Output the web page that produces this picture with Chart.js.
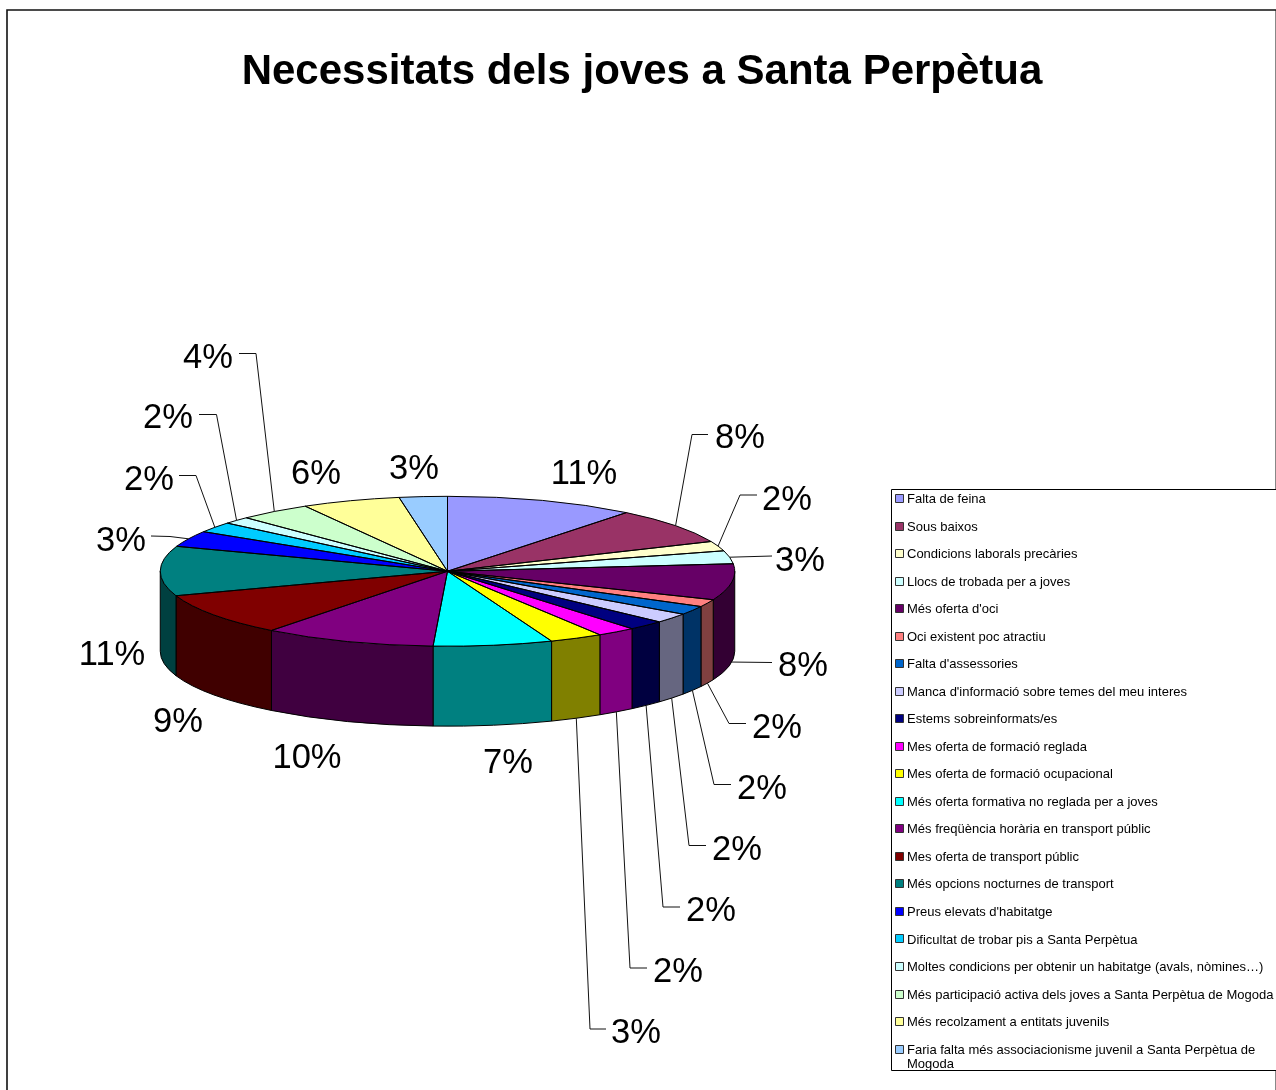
<!DOCTYPE html>
<html><head><meta charset="utf-8">
<style>html,body{margin:0;padding:0;background:#fff}canvas{display:block}</style>
<script src="https://cdn.jsdelivr.net/npm/chart.js@4/dist/chart.umd.js"></script>
</head><body>
<canvas id="c" width="1276" height="1090"></canvas>
<script>
const titleText = "Necessitats dels joves a Santa Perpètua";
const categories = ["Falta de feina","Sous baixos","Condicions laborals precàries","Llocs de trobada per a joves","Més oferta d'oci","Oci existent poc atractiu","Falta d'assessories","Manca d'informació sobre temes del meu interes","Estems sobreinformats/es","Mes oferta de formació reglada","Mes oferta de formació ocupacional","Més oferta formativa no reglada per a joves","Més freqüència horària en transport públic","Mes oferta de transport públic","Més opcions nocturnes de transport","Preus elevats d'habitatge","Dificultat de trobar pis a Santa Perpètua","Moltes condicions per obtenir un habitatge (avals, nòmines…)","Més participació activa dels joves a Santa Perpètua de Mogoda","Més recolzament a entitats juvenils","Faria falta més associacionisme juvenil a Santa Perpètua de Mogoda"];
const shares = [10.7,7.8,2.1,2.8,7.8,1.6,1.9,2.1,2.1,2.2,3.0,6.7,9.7,9.2,10.7,3.45,2.25,1.55,4.1,5.55,2.7];
const colors = ["#9999FF","#993366","#FFFFCC","#CCFFFF","#660066","#FF8080","#0066CC","#CCCCFF","#000080","#FF00FF","#FFFF00","#00FFFF","#800080","#800000","#008080","#0000FF","#00CCFF","#CCFFFF","#CCFFCC","#FFFF99","#99CCFF"];
// label centre and optional leader route (elbow points, ending near the label)
const labelPlacement = [
 {x:584,y:472},
 {x:740,y:436,route:[[692,434.5],[708,434.5]]},
 {x:787,y:498,route:[[740,495],[757,495]]},
 {x:800,y:559,route:[[772,556]]},
 {x:803,y:664,route:[[772,662.5]]},
 {x:777,y:726,route:[[729,723.5],[746,723.5]]},
 {x:762,y:787,route:[[714,784.5],[731,784.5]]},
 {x:737,y:848,route:[[689,845.5],[706,845.5]]},
 {x:711,y:909,route:[[663,907],[680,907]]},
 {x:678,y:970,route:[[630,968],[647,968]]},
 {x:636,y:1031,route:[[590,1029],[606,1029]]},
 {x:508,y:761},
 {x:307,y:756},
 {x:178,y:720},
 {x:112,y:653},
 {x:121,y:539,route:[[170,536.5],[151,536]]},
 {x:149,y:478,route:[[196,475.5],[179,475.5]]},
 {x:168,y:416,route:[[216.5,414.5],[199,414.5]]},
 {x:208,y:356,route:[[256,353.5],[239,353.5]]},
 {x:316,y:472},
 {x:414,y:467}
];
const FONT = '"Liberation Sans", Arial, sans-serif';
const TILT = 75/287.5, DEPTH = 80;
const half = c => '#'+[1,3,5].map(i=>Math.round(parseInt(c.substr(i,2),16)/2).toString(16).padStart(2,'0')).join('');

const pie3d = {
  id:'pie3d',
  beforeDraw(chart){
    const ctx = chart.ctx;
    ctx.save();
    ctx.fillStyle='#fff'; ctx.fillRect(0,0,chart.width,chart.height);
    ctx.strokeStyle='#888'; ctx.lineWidth=1;
    ctx.beginPath(); ctx.moveTo(1275.5,1090); ctx.lineTo(1275.5,10); ctx.stroke();
    ctx.strokeStyle='#111'; ctx.lineWidth=1.6;
    ctx.beginPath(); ctx.moveTo(1276,10); ctx.lineTo(7,10); ctx.lineTo(7,1090); ctx.stroke();
    ctx.restore();
  },
  afterLayout(chart){
    const t = chart.titleBlock; t.left = 8; t.right = 1276; t.width = 1268;
  },
  beforeDatasetDraw(chart){
    const ctx = chart.ctx, arcs = chart.getDatasetMeta(0).data, a0 = arcs[0];
    ctx.save();
    ctx.lineWidth=1; ctx.strokeStyle='#000'; ctx.lineJoin='round';
    arcs.forEach((el,i)=>{
      const lo = Math.max(el.startAngle,0), hi = Math.min(el.endAngle,Math.PI);
      if(hi<=lo) return;
      const R=el.outerRadius, r=R*TILT;
      ctx.beginPath();
      ctx.ellipse(el.x,el.y,R,r,0,lo,hi);
      ctx.ellipse(el.x,el.y+DEPTH,R,r,0,hi,lo,true);
      ctx.closePath();
      ctx.fillStyle=half(colors[i]); ctx.fill(); ctx.stroke();
    });
    ctx.restore();
    ctx.save();
    ctx.translate(0,a0.y); ctx.scale(1,TILT); ctx.translate(0,-a0.y);
  },
  afterDatasetDraw(chart){
    const ctx = chart.ctx, arcs = chart.getDatasetMeta(0).data;
    ctx.restore();
    ctx.save();
    ctx.lineWidth=1; ctx.strokeStyle='#000'; ctx.lineJoin='round';
    arcs.forEach(el=>{
      const R=el.outerRadius;
      ctx.beginPath();
      ctx.moveTo(el.x,el.y);
      ctx.ellipse(el.x,el.y,R,R*TILT,0,el.startAngle,el.endAngle);
      ctx.closePath(); ctx.stroke();
    });
    // percentage labels and leader lines
    const total = shares.reduce((a,b)=>a+b,0);
    ctx.font='34.5px '+FONT; ctx.fillStyle='#000'; ctx.textAlign='center'; ctx.textBaseline='middle';
    ctx.strokeStyle='#111';
    arcs.forEach((el,i)=>{
      const p=labelPlacement[i], mid=(el.startAngle+el.endAngle)/2, R=el.outerRadius;
      if(p.route){
        const sy=Math.sin(mid);
        let sx0=el.x+R*Math.cos(mid), sy0=el.y+R*TILT*sy+(sy>0?DEPTH:0);
        ctx.beginPath(); ctx.moveTo(sx0,sy0);
        p.route.forEach(q=>ctx.lineTo(q[0],q[1]));
        ctx.stroke();
      }
      ctx.fillText(Math.round(shares[i]/total*100)+'%',p.x,p.y+2);
    });
    // legend box
    ctx.fillStyle='#fff'; ctx.strokeStyle='#000';
    ctx.fillRect(891.5,489.5,385,581);
    ctx.strokeRect(891.5,489.5,400,581);
    ctx.font='13px '+FONT; ctx.textAlign='left'; ctx.textBaseline='middle';
    categories.forEach((name,i)=>{
      const y=499.5+i*27.53, sw=Math.round(494+i*27.53)+0.5;
      ctx.fillStyle=colors[i]; ctx.strokeStyle='#333';
      ctx.fillRect(895.5,sw,8,8); ctx.strokeRect(895.5,sw,8,8);
      ctx.fillStyle='#000';
      if(i===categories.length-1){
        ctx.fillText("Faria falta més associacionisme juvenil a Santa Perpètua de",907,y);
        ctx.fillText("Mogoda",907,y+14.5);
      } else ctx.fillText(name,907,y);
    });
    ctx.restore();
  }
};

new Chart(document.getElementById('c'),{
  type:'pie',
  data:{labels:categories,datasets:[{data:shares,backgroundColor:colors,borderWidth:0}]},
  options:{
    responsive:false,animation:false,
    layout:{padding:{left:160,right:541,top:0,bottom:231.5}},
    events:[],
    plugins:{
      legend:{display:false},tooltip:{enabled:false},
      title:{display:true,text:titleText,color:'#000',
        font:{family:FONT,size:42,weight:'bold',lineHeight:1.2},
        padding:{top:47,bottom:186.6}}
    }
  },
  plugins:[pie3d]
});
</script>
</body></html>
